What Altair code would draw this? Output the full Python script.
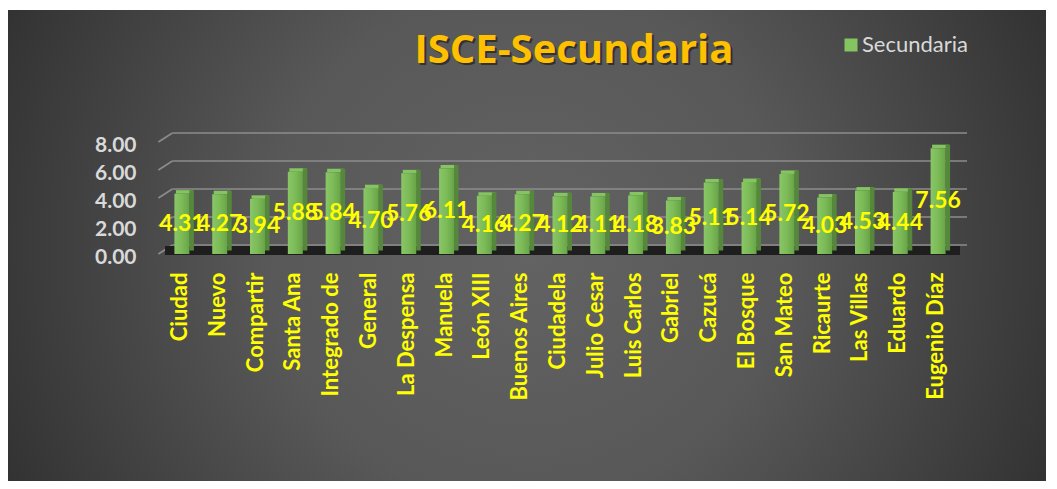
import altair as alt
import pandas as pd

schools = ["Ciudad", "Nuevo", "Compartir", "Santa Ana", "Integrado de", "General",
           "La Despensa", "Manuela", "León XIII", "Buenos Aires", "Ciudadela",
           "Julio Cesar", "Luis Carlos", "Gabriel", "Cazucá", "El Bosque",
           "San Mateo", "Ricaurte", "Las Villas", "Eduardo", "Eugenio Díaz"]
values = [4.31, 4.27, 3.94, 5.88, 5.84, 4.70, 5.76, 6.11, 4.16, 4.27, 4.12,
          4.11, 4.18, 3.83, 5.11, 5.14, 5.72, 4.03, 4.53, 4.44, 7.56]
y_ticks = [0, 2, 4, 6, 8]
series_name = "Secundaria"
chart_title = "ISCE-Secundaria"

df = pd.DataFrame({"school": schools, "value": values, "serie": series_name})
df["half"] = df["value"] / 2
grid_df = pd.DataFrame({"v": y_ticks})
one = pd.DataFrame({"a": [0]})

W, H = 794, 112
PAD_L, PAD_T, PAD_R = 155, 134, 91
TOTAL_H = 473
PAD_B = TOTAL_H - PAD_T - H

yscale = alt.Scale(domain=[0, 8], nice=False, zero=True)
xscale = alt.Scale(paddingInner=0, paddingOuter=0)

yaxis = alt.Axis(values=y_ticks, format=".2f", grid=False, domain=False, ticks=False,
                 labelPadding=27, labelOffset=3, labelFont="Lato", title=None,
                 labelFontWeight="bold", labelFontSize=21, labelColor="#d9d9d9", zindex=1)
xaxis = alt.Axis(labelAngle=270, labelPadding=18, labelOffset=-2, title=None,
                 domain=False, ticks=False, grid=False, zindex=1,
                 labelFont="Lato", labelFontWeight="bold", labelFontSize=22,
                 labelColor="#ffff00", labelLimit=300, labelOverlap=False)

bg = alt.Chart(one).mark_rect(
    fill={"gradient": "radial", "x1": 0.5, "y1": 0.5, "r1": 0,
          "x2": 0.5, "y2": 0.5, "r2": 0.56,
          "stops": [{"offset": 0, "color": "#636363"},
                    {"offset": 0.45, "color": "#585858"},
                    {"offset": 1, "color": "#313131"}]}
).encode(x=alt.value(-PAD_L), x2=alt.value(883), y=alt.value(-132), y2=alt.value(TOTAL_H - PAD_T))

grid_h = alt.Chart(grid_df).mark_rule(color="#8c8c8c", strokeWidth=1.6, yOffset=-9).encode(
    x=alt.value(9.4), x2=alt.value(804),
    y=alt.Y("v:Q", scale=yscale, axis=yaxis))
grid_s = alt.Chart(grid_df).mark_rule(color="#8c8c8c", strokeWidth=1.6, y2Offset=-9).encode(
    x=alt.value(-4.6), x2=alt.value(9.4),
    y=alt.Y("v:Q", scale=yscale, axis=yaxis), y2=alt.Y2("v:Q"))

floor = alt.Chart(one).mark_rect(color="#1e1e1e", yOffset=1, y2Offset=-8).encode(
    x=alt.value(2), x2=alt.value(797),
    y=alt.Y(datum=0, scale=yscale, axis=yaxis), y2=alt.Y2(datum=0))

xenc = alt.X("school:N", sort=schools, scale=xscale, axis=xaxis)

top_face = alt.Chart(df).mark_bar(width=16.5, xOffset=2.25, y2Offset=-3.5).encode(
    x=xenc,
    y=alt.Y("value:Q", scale=yscale, axis=yaxis), y2=alt.Y2("value:Q"),
    color=alt.Color("serie:N", scale=alt.Scale(range=["#84c561"]),
                    legend=alt.Legend(orient="none", legendX=677, legendY=-108, title=None,
                                      symbolType="square", symbolSize=169, symbolStrokeWidth=0,
                                      labelFont="Lato", labelFontSize=22, labelColor="#d9d9d9",
                                      labelOffset=0, padding=0)))

side_face = alt.Chart(df).mark_bar(width=4.5, xOffset=9.75, yOffset=-3.5, color="#55883a").encode(
    x=xenc, y=alt.Y("value:Q", scale=yscale, axis=yaxis))

front_face = alt.Chart(df).mark_bar(
    width=15,
    fill={"gradient": "linear", "x1": 0, "y1": 0, "x2": 1, "y2": 0,
          "stops": [{"offset": 0, "color": "#89c667"},
                    {"offset": 0.5, "color": "#7cbb58"},
                    {"offset": 1, "color": "#68a447"}]}
).encode(
    x=xenc,
    y=alt.Y("value:Q", scale=yscale, axis=yaxis))

labels = alt.Chart(df).mark_text(font="Lato", fontWeight="bold", fontSize=23,
                                 color="#ffff00", baseline="middle").encode(
    x=xenc, y=alt.Y("half:Q", scale=yscale, axis=yaxis),
    text=alt.Text("value:Q", format=".2f"))

title_shadow = alt.Chart(one).mark_text(font="Open Sans", fontWeight="bold", fontSize=40,
                                        color="#000000", opacity=0.45, align="center",
                                        baseline="alphabetic", dx=2, dy=2).encode(
    x=alt.value(411), y=alt.value(-79), text=alt.value(chart_title))
title = alt.Chart(one).mark_text(font="Open Sans", fontWeight="bold", fontSize=40,
                                 color="#ffc000", align="center", baseline="alphabetic").encode(
    x=alt.value(411), y=alt.value(-79), text=alt.value(chart_title))

chart = alt.layer(bg, grid_s, grid_h, floor, top_face, side_face, front_face, labels,
                  title_shadow, title).properties(
    width=W, height=H,
    autosize=alt.AutoSizeParams(type="none"),
    padding={"left": PAD_L, "top": PAD_T, "right": PAD_R, "bottom": PAD_B},
    background="white",
).configure_view(strokeWidth=0)

chart.save("out.html", embed_options={"renderer": "svg", "actions": False})
